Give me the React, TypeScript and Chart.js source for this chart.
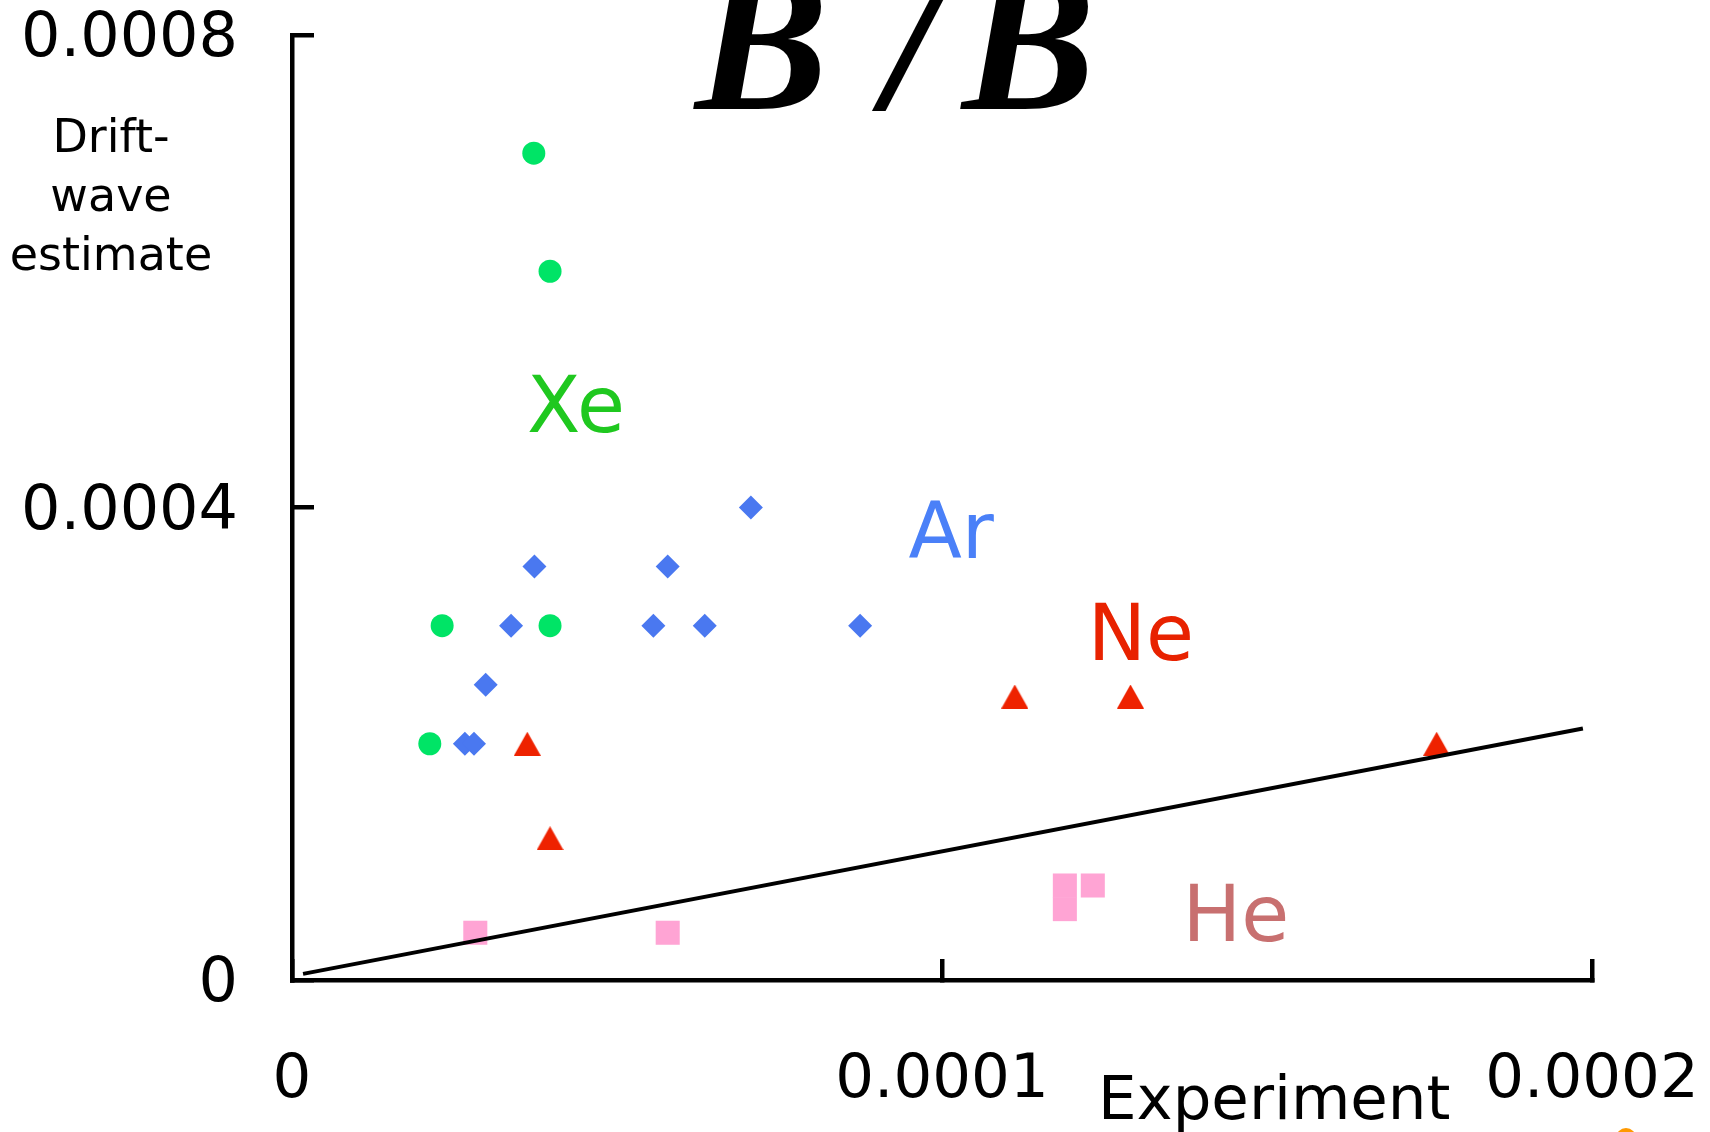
import React, { useEffect, useRef } from "react";
import { Chart, registerables } from "chart.js";

Chart.register(...registerables);

// ---- data ----
const xeX = [3.72e-5, 3.97e-5, 2.31e-5, 3.97e-5, 2.12e-5];
const xeY = [7.0e-4, 6.0e-4, 3.0e-4, 3.0e-4, 2.0e-4];
const arX = [7.06e-5, 3.73e-5, 5.78e-5, 3.37e-5, 5.56e-5, 6.35e-5, 8.74e-5, 2.98e-5, 2.66e-5, 2.8e-5];
const arY = [4.0e-4, 3.5e-4, 3.5e-4, 3.0e-4, 3.0e-4, 3.0e-4, 3.0e-4, 2.5e-4, 2.0e-4, 2.0e-4];
const neX = [3.62e-5, 3.97e-5, 1.112e-4, 1.29e-4, 1.761e-4];
const neY = [2.0e-4, 1.2e-4, 2.4e-4, 2.4e-4, 2.0e-4];
const heX = [2.82e-5, 5.78e-5, 1.189e-4, 1.189e-4, 1.232e-4];
const heY = [4.0e-5, 4.0e-5, 8.0e-5, 6.0e-5, 8.0e-5];
const fitX = [1.7e-6, 1.986e-4];
const fitY = [5.2e-6, 2.129e-4];

const xTicks = [0, 0.0001, 0.0002];
const xTickLabels = ["0", "0.0001", "0.0002"];
const yTicks = [0, 0.0004, 0.0008];
const yTickLabels = ["0", "0.0004", "0.0008"];

const species = ["Xe", "Ar", "Ne", "He"];
const speciesLabelX = [4.37e-5, 1.014e-4, 1.306e-4, 1.452e-4];
const speciesLabelY = [4.81e-4, 3.74e-4, 2.88e-4, 5.0e-5];
const markerColors = ["#00e466", "#4a78f0", "#ee2200", "#ffa4d4"];
const textColors = ["#1fc81f", "#4a80f8", "#e82200", "#c87070"];

const titleGlyphs = ["B", "/", "B"];
const yTitleLines = ["Drift-", "wave", "estimate"];
const xTitleText = "Experiment";

const toPts = (xs: number[], ys: number[]) => xs.map((x, i) => ({ x, y: ys[i] }));

function makeTriangle(color: string): HTMLCanvasElement {
  const c = document.createElement("canvas");
  c.width = 27;
  c.height = 24;
  const g = c.getContext("2d")!;
  g.fillStyle = color;
  g.beginPath();
  g.moveTo(13.5, 0);
  g.lineTo(27, 24);
  g.lineTo(0, 24);
  g.closePath();
  g.fill();
  return c;
}

const annotations = {
  id: "annotations",
  afterDraw(chart: any) {
    const ctx = chart.ctx;
    const xs = chart.scales.x;
    const ys = chart.scales.y;
    ctx.save();
    // species labels
    ctx.font = '78px "DejaVu Sans"';
    ctx.textAlign = "center";
    ctx.textBaseline = "middle";
    species.forEach((s, i) => {
      ctx.fillStyle = textColors[i];
      ctx.fillText(s, xs.getPixelForValue(speciesLabelX[i]), ys.getPixelForValue(speciesLabelY[i]));
    });
    // title (B / B)
    ctx.fillStyle = "#000";
    ctx.font = 'italic bold 200px "Liberation Serif"';
    ctx.textAlign = "left";
    ctx.textBaseline = "alphabetic";
    const titleX = [695, 884, 962];
    titleGlyphs.forEach((g, i) => ctx.fillText(g, titleX[i], 109));
    // y title
    ctx.font = '46px "DejaVu Sans"';
    ctx.textAlign = "center";
    ctx.textBaseline = "middle";
    yTitleLines.forEach((l, i) => ctx.fillText(l, 111, 140 + i * 59));
    // x title
    ctx.font = '61px "DejaVu Sans"';
    ctx.textAlign = "left";
    ctx.textBaseline = "alphabetic";
    ctx.fillText(xTitleText, 1098, 1119);
    // clipped orange mark at bottom edge
    ctx.fillStyle = "#ff9900";
    ctx.beginPath();
    ctx.ellipse(1626, 1138, 10, 10, 0, 0, Math.PI * 2);
    ctx.fill();
    ctx.restore();
  },
};

export default function App() {
  const ref = useRef<HTMLCanvasElement>(null);
  useEffect(() => {
    if (!ref.current) return;
    const tri = makeTriangle(markerColors[2]);
    const chart = new Chart(ref.current, {
      type: "scatter",
      data: {
        datasets: [
          {
            label: "fit",
            type: "line",
            data: toPts(fitX, fitY),
            borderColor: "#000",
            borderWidth: 4,
            pointRadius: 0,
            showLine: true,
            fill: false,
            order: 0,
          } as any,
          {
            label: "Xe",
            data: toPts(xeX, xeY),
            backgroundColor: markerColors[0],
            borderWidth: 0,
            pointStyle: "circle",
            pointRadius: 11.5,
            order: 4,
          },
          {
            label: "Ar",
            data: toPts(arX, arY),
            backgroundColor: markerColors[1],
            borderWidth: 0,
            pointStyle: "rectRot",
            pointRadius: 12,
            order: 3,
          },
          {
            label: "Ne",
            data: toPts(neX, neY),
            backgroundColor: markerColors[2],
            borderWidth: 0,
            pointStyle: tri,
            pointRadius: 14,
            order: 2,
          },
          {
            label: "He",
            data: toPts(heX, heY),
            backgroundColor: markerColors[3],
            borderWidth: 0,
            pointStyle: "rect",
            pointRadius: 17,
            order: 1,
          },
        ],
      },
      options: {
        responsive: false,
        animation: false,
        events: [],
        layout: { padding: { top: 35, right: 118, left: 0, bottom: 0 } },
        plugins: { legend: { display: false }, tooltip: { enabled: false }, title: { display: false } },
        scales: {
          x: {
            type: "linear",
            position: "bottom",
            min: 0,
            max: 0.0002,
            afterBuildTicks: (axis: any) => {
              axis.ticks = xTicks.map((v) => ({ value: v }));
            },
            afterFit: (scale: any) => {
              scale.height = 152;
              scale.paddingLeft = 0;
              scale.paddingRight = 0;
            },
            ticks: {
              autoSkip: false,
              maxRotation: 0,
              color: "#000",
              padding: 86,
              font: { family: "DejaVu Sans", size: 61, lineHeight: 1.2 },
              callback: (_v: any, i: number) => xTickLabels[i],
            },
            grid: {
              display: true,
              drawOnChartArea: false,
              drawTicks: true,
              tickLength: -21,
              color: "#000",
              lineWidth: 4.5,
            },
            border: { display: true, color: "#000", width: 4.5 },
          },
          y: {
            type: "linear",
            position: "left",
            min: 0,
            max: 0.0008,
            afterBuildTicks: (axis: any) => {
              axis.ticks = yTicks.map((v) => ({ value: v }));
            },
            afterFit: (scale: any) => {
              scale.width = 292;
              scale.paddingTop = 0;
              scale.paddingBottom = 0;
            },
            ticks: {
              autoSkip: false,
              color: "#000",
              padding: 76,
              labelOffset: 5,
              font: { family: "DejaVu Sans", size: 62, lineHeight: 1.2 },
              callback: (_v: any, i: number) => yTickLabels[i],
            },
            grid: {
              display: true,
              drawOnChartArea: false,
              drawTicks: true,
              tickLength: -22,
              color: "#000",
              lineWidth: 4.5,
            },
            border: { display: true, color: "#000", width: 4.5 },
          },
        },
      },
      plugins: [annotations],
    });
    return () => chart.destroy();
  }, []);
  return (
    <div style={{ position: "absolute", left: 0, top: 0, width: 1710, height: 1132, background: "#fff" }}>
      <canvas ref={ref} width={1710} height={1132} style={{ display: "block" }} />
    </div>
  );
}
